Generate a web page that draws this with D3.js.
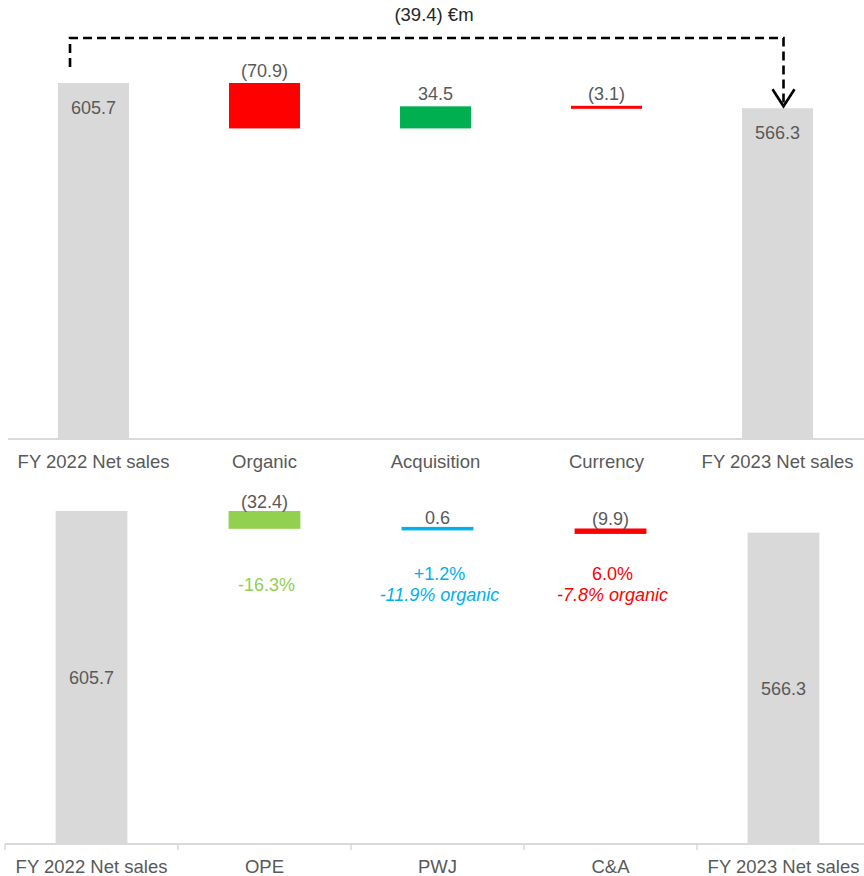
<!DOCTYPE html>
<html>
<head>
<meta charset="utf-8">
<script src="https://cdn.jsdelivr.net/npm/d3@7"></script>
<style>
  html, body { margin: 0; padding: 0; background: #ffffff; }
  svg { display: block; font-family: "Liberation Sans", Arial, sans-serif; }
</style>
</head>
<body>
<svg id="chart" width="864" height="876"></svg>
<script>
// ---------- data ----------
const topCategories = ["FY 2022 Net sales", "Organic", "Acquisition", "Currency", "FY 2023 Net sales"];
const topValues = [605.7, -70.9, 34.5, -3.1, 566.3];
const topKinds = ["total", "change", "change", "change", "total"];
const topLabels = ["605.7", "(70.9)", "34.5", "(3.1)", "566.3"];

const bottomCategories = ["FY 2022 Net sales", "OPE", "PWJ", "C&A", "FY 2023 Net sales"];
const bottomValues = [605.7, -32.4, 0.6, -9.9, 566.3];
const bottomKinds = ["total", "change", "change", "change", "total"];
const bottomLabels = ["605.7", "(32.4)", "0.6", "(9.9)", "566.3"];
const bottomNotes = [[], ["-16.3%"], ["+1.2%", "-11.9% organic"], ["6.0%", "-7.8% organic"], []];

const bridgeLabel = "(39.4) €m";

// ---------- styles ----------
const topColors = ["#d9d9d9", "#ff0000", "#00b050", "#ff0000", "#d9d9d9"];
const bottomColors = ["#d9d9d9", "#92d050", "#00b0f0", "#ff0000", "#d9d9d9"];
const textGray = "#595959";
const axisGray = "#d9d9d9";

const svg = d3.select("#chart");

function waterfall(values, kinds, domainMin) {
  let run = 0;
  return values.map((v, i) => {
    if (kinds[i] === "total") {
      run = v;
      return { i, y0: domainMin, y1: v, kind: "total" };
    }
    const start = run;
    run = run + v;
    return { i, y0: start, y1: run, kind: "change" };
  });
}

function drawPanel(opts) {
  const { cats, values, kinds, labels, colors, xRange, yDomain, yRange, axisY,
          totalLabelMode, changeLabelGap, minH, barFrac, ticks, labelY } = opts;
  const g = svg.append("g");
  const x = d3.scaleBand().domain(cats).range(xRange).paddingInner(0).paddingOuter(0);
  const y = d3.scaleLinear().domain(yDomain).range(yRange);
  const bw = x.bandwidth() * barFrac;
  const data = waterfall(values, kinds, yDomain[0]);

  // axis
  const axis = d3.axisBottom(x).tickSize(0).tickSizeOuter(0).tickPadding(0);
  const ax = g.append("g").attr("transform", `translate(0,${axisY})`).call(axis);
  ax.select(".domain").attr("stroke", axisGray).attr("stroke-width", 2.2)
    .attr("d", `M${xRange[0]},0H864`);
  ax.selectAll(".tick text")
    .attr("y", labelY - axisY).attr("dy", 0)
    .attr("fill", textGray)
    .style("font-size", "18.5px")
    .style("font-family", '"Liberation Sans", Arial, sans-serif');
  if (ticks) {
    const bounds = cats.map(c => x(c));
    g.selectAll(".btick").data(bounds).join("line")
      .attr("x1", d => d).attr("x2", d => d)
      .attr("y1", axisY).attr("y2", axisY + 6)
      .attr("stroke", axisGray).attr("stroke-width", 1.5);
  }

  // bars
  const bars = data.map(d => {
    const top = Math.min(y(d.y0), y(d.y1));
    const bot = Math.max(y(d.y0), y(d.y1));
    let h = bot - top;
    let t = top;
    if (h < minH) { const c = (top + bot) / 2; t = c - minH / 2; h = minH; }
    return { ...d, x: x(cats[d.i]) + (x.bandwidth() - bw) / 2, top: t, h };
  });
  g.selectAll(".bar").data(bars).join("rect")
    .attr("x", d => d.x).attr("width", bw)
    .attr("y", d => d.top).attr("height", d => d.kind === "total" ? axisY - d.top : d.h)
    .attr("fill", d => colors[d.i]);

  // value labels
  g.selectAll(".val").data(bars).join("text")
    .attr("x", d => d.x + bw / 2)
    .attr("y", d => {
      if (d.kind === "total") {
        return totalLabelMode === "inside-top" ? d.top + 31 : (d.top + axisY) / 2 + 6.5;
      }
      return d.top - changeLabelGap;
    })
    .attr("text-anchor", "middle")
    .attr("fill", textGray)
    .style("font-size", "18px")
    .text(d => labels[d.i]);

  return { x, y, bw, bars, g };
}

// ---------- top panel ----------
const topPanel = drawPanel({
  cats: topCategories, values: topValues, kinds: topKinds, labels: topLabels,
  colors: topColors, xRange: [8, 863], yDomain: [50, 605.7], yRange: [439, 83],
  axisY: 439, totalLabelMode: "inside-top", changeLabelGap: 6, minH: 3,
  barFrac: 0.415, ticks: false, labelY: 468
});

// bridge arrow (dashed)
{
  const b0 = topPanel.bars[0], bN = topPanel.bars[topPanel.bars.length - 1];
  const lx = b0.x + 12;
  const rx = bN.x + topPanel.bw / 2 + 6;
  const lineY = 38;
  const tipY = bN.top - 2;
  const dash = topPanel.g.append("path")
    .attr("d", `M${lx},${b0.top - 16}V${lineY}H${rx}V${tipY}`)
    .attr("fill", "none").attr("stroke", "#000").attr("stroke-width", 2.6)
    .attr("stroke-dasharray", "9,5");
  topPanel.g.append("path")
    .attr("d", `M${rx - 11},${tipY - 17}L${rx},${tipY}L${rx + 11},${tipY - 17}`)
    .attr("fill", "none").attr("stroke", "#000").attr("stroke-width", 2.6);
  topPanel.g.append("text")
    .attr("x", 434).attr("y", 21)
    .attr("text-anchor", "middle").attr("fill", "#262626")
    .style("font-size", "18.5px")
    .text(bridgeLabel);
}

// ---------- bottom panel ----------
const botPanel = drawPanel({
  cats: bottomCategories, values: bottomValues, kinds: bottomKinds, labels: bottomLabels,
  colors: bottomColors, xRange: [5, 870], yDomain: [0, 605.7], yRange: [844, 511],
  axisY: 844, totalLabelMode: "middle", changeLabelGap: 3, minH: 3.5,
  barFrac: 0.415, ticks: true, labelY: 873
});

// annotations under change bars
{
  const centerY = 584, lineH = 21;
  bottomNotes.forEach((lines, i) => {
    if (!lines.length) return;
    const cx = botPanel.x(bottomCategories[i]) + botPanel.x.bandwidth() / 2 + 2;
    const startY = centerY - (lines.length - 1) * lineH / 2 + 6.5;
    lines.forEach((t, k) => {
      botPanel.g.append("text")
        .attr("x", cx).attr("y", startY + k * lineH)
        .attr("text-anchor", "middle")
        .attr("fill", bottomColors[i])
        .style("font-size", "18px")
        .style("font-style", k === 1 ? "italic" : "normal")
        .text(t);
    });
  });
}
</script>
</body>
</html>
